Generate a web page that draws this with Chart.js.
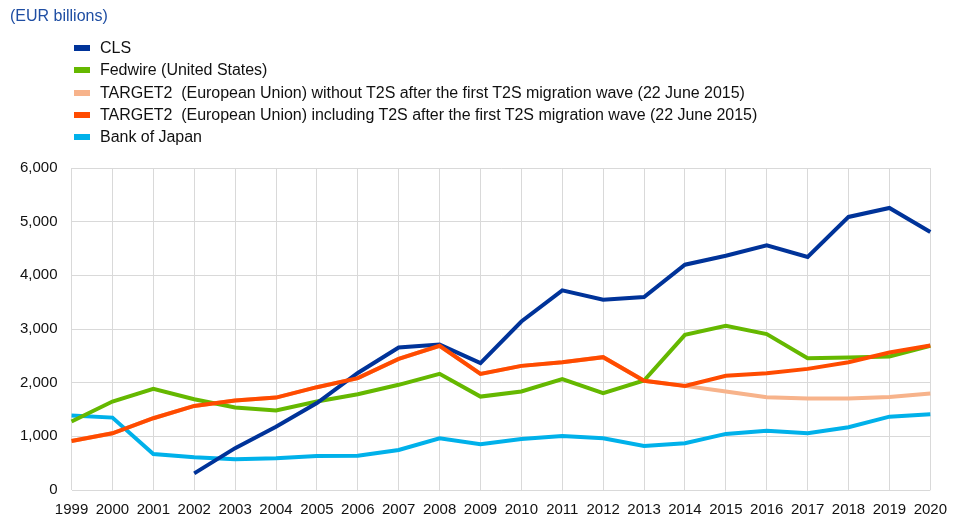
<!DOCTYPE html>
<html>
<head>
<meta charset="utf-8">
<script src="https://cdn.jsdelivr.net/npm/chart.js@4/dist/chart.umd.min.js"></script>
<style>
  html, body { margin: 0; padding: 0; background: #fff; }
  #wrap { position: relative; width: 957px; height: 520px; overflow: hidden; }
  #title { position: absolute; left: 10px; top: 7px; font: 16px "Liberation Sans", Arial, sans-serif; color: #1f4ea3; white-space: pre; }
  #legend { position: absolute; left: 74px; top: 37px; font: 16px "Liberation Sans", Arial, sans-serif; color: #111; letter-spacing: -0.03px; }
  .row { height: 22.3px; display: flex; align-items: center; white-space: pre; }
  .sw { width: 16px; height: 6px; margin-right: 10px; }
  canvas { position: absolute; left: 0; top: 0; }
</style>
</head>
<body>
<div id="wrap">
  <canvas id="c" width="958" height="530"></canvas>
  <div id="title">(EUR billions)</div>
  <div id="legend"></div>
</div>
<script>
const years = ["1999","2000","2001","2002","2003","2004","2005","2006","2007","2008","2009","2010","2011","2012","2013","2014","2015","2016","2017","2018","2019","2020"];
const seriesNames = [
  "CLS",
  "Fedwire (United States)",
  "TARGET2  (European Union) without T2S after the first T2S migration wave (22 June 2015)",
  "TARGET2  (European Union) including T2S after the first T2S migration wave (22 June 2015)",
  "Bank of Japan"
];
const cls = [null,null,null,310,780,1180,1620,2180,2655,2710,2364,3140,3720,3545,3595,4198,4366,4558,4341,5088,5255,4808];
const fedwire = [1275,1648,1884,1690,1536,1480,1650,1785,1960,2165,1741,1835,2065,1804,2040,2892,3060,2905,2457,2468,2487,2687];
const target2Without = [914,1057,1337,1567,1666,1722,1916,2084,2444,2687,2164,2313,2382,2475,2034,1940,1835,1730,1705,1705,1735,1797];
const target2Including = [914,1057,1337,1567,1666,1722,1916,2084,2444,2687,2164,2313,2382,2475,2034,1940,2127,2177,2257,2382,2562,2693];
const bankOfJapan = [1386,1349,672,610,572,591,634,640,746,964,852,951,1007,964,821,871,1045,1106,1057,1169,1367,1412];
const yTicks = [0,1000,2000,3000,4000,5000,6000];

const colors = ["#003399", "#65b800", "#f7b38b", "#ff4b00", "#00b1ea"];
const values = [cls, fedwire, target2Without, target2Including, bankOfJapan];
const drawOrder = [1, 2, 4, 0, 3];

const lg = document.getElementById('legend');
seriesNames.forEach((n, i) => {
  const r = document.createElement('div'); r.className = 'row';
  const s = document.createElement('div'); s.className = 'sw'; s.style.background = colors[i];
  const t = document.createElement('span'); t.textContent = n;
  r.appendChild(s); r.appendChild(t); lg.appendChild(r);
});

const font = { family: '"Liberation Sans", Arial, sans-serif', size: 15 };
new Chart(document.getElementById('c'), {
  type: 'line',
  data: {
    labels: years,
    datasets: seriesNames.map((n, i) => ({
      label: n, data: values[i], borderColor: colors[i], backgroundColor: colors[i],
      borderWidth: 4, pointRadius: 0, tension: 0, fill: false, order: drawOrder[i],
      borderCapStyle: 'butt', borderJoinStyle: 'miter', spanGaps: false
    }))
  },
  options: {
    responsive: false, animation: false,
    layout: { padding: { top: 168, left: 6, right: 0, bottom: 0 } },
    plugins: { legend: { display: false }, tooltip: { enabled: false } },
    scales: {
      x: {
        offset: false,
        grid: { color: '#d9d9d9', lineWidth: 1, drawTicks: false },
        border: { display: false },
        ticks: { color: '#111', font: font, padding: 11, maxRotation: 0, autoSkip: false }
      },
      y: {
        min: 0, max: 6000,
        afterBuildTicks: (ax) => { ax.ticks = yTicks.map(v => ({ value: v })); },
        grid: { color: '#d9d9d9', lineWidth: 1, drawTicks: false },
        border: { display: false },
        ticks: { color: '#111', font: font, padding: 14,
          callback: (v) => v.toLocaleString('en-US') }
      }
    }
  }
});
</script>
</body>
</html>
